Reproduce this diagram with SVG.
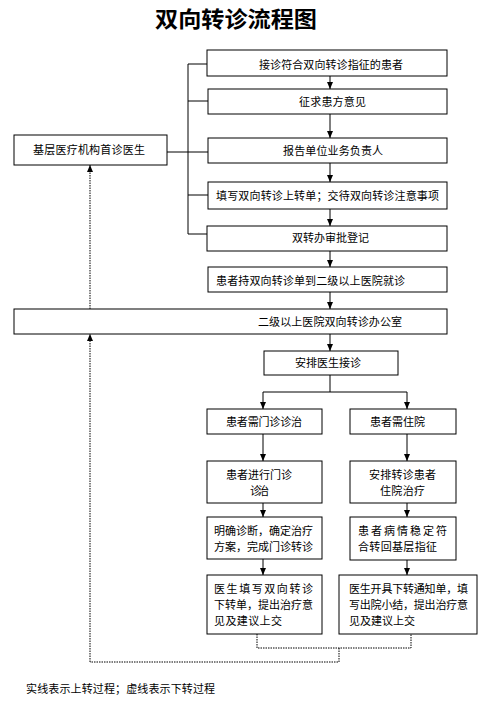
<svg xmlns="http://www.w3.org/2000/svg" width="487" height="722" viewBox="0 0 487 722">
<style>
.box{fill:#fff;stroke:#000;stroke-width:1}
.t{font-family:"Noto Sans CJK SC","Liberation Sans",sans-serif;font-size:11px;fill:#000}
.title{font-family:"Noto Sans CJK SC","Liberation Serif",serif;font-size:22px;font-weight:bold;fill:#000}
.ln{fill:none;stroke:#000;stroke-width:1}
.dot{fill:none;stroke:#000;stroke-width:1;stroke-dasharray:1.5 1}
</style>
<defs>
<marker id="ah" markerUnits="userSpaceOnUse" markerWidth="7" markerHeight="6" refX="7" refY="3" orient="auto">
<path d="M0,0 L7,3 L0,6 z" fill="#000"/>
</marker>
</defs>
<rect width="487" height="722" fill="#fff"/>
<text class="title" x="155" y="26.5" textLength="162" lengthAdjust="spacingAndGlyphs">双向转诊流程图</text>

<g id="connectors">
<path class="ln" d="M188,64 V234 M188,64 H207 M188,101 H208 M167,152 H208 M188,195 H208 M188,234 H207"/>
<line class="ln" x1="330" y1="76" x2="330" y2="89" marker-end="url(#ah)"/>
<line class="ln" x1="330" y1="114" x2="330" y2="138" marker-end="url(#ah)"/>
<line class="ln" x1="330" y1="163" x2="330" y2="182" marker-end="url(#ah)"/>
<line class="ln" x1="330" y1="209" x2="330" y2="226" marker-end="url(#ah)"/>
<line class="ln" x1="330" y1="251" x2="330" y2="267" marker-end="url(#ah)"/>
<line class="ln" x1="330" y1="292" x2="330" y2="309" marker-end="url(#ah)"/>
<line class="ln" x1="330" y1="334" x2="330" y2="351" marker-end="url(#ah)"/>
<path class="ln" d="M330,375 V392 M263,392 H407"/>
<line class="ln" x1="263" y1="392" x2="263" y2="409" marker-end="url(#ah)"/>
<line class="ln" x1="407" y1="392" x2="407" y2="409" marker-end="url(#ah)"/>
<line class="ln" x1="263" y1="434" x2="263" y2="461" marker-end="url(#ah)"/>
<line class="ln" x1="263" y1="503" x2="263" y2="517" marker-end="url(#ah)"/>
<line class="ln" x1="263" y1="559" x2="263" y2="575" marker-end="url(#ah)"/>
<line class="ln" x1="407" y1="434" x2="407" y2="461" marker-end="url(#ah)"/>
<line class="ln" x1="407" y1="503" x2="407" y2="517" marker-end="url(#ah)"/>
<line class="ln" x1="407" y1="560" x2="407" y2="575" marker-end="url(#ah)"/>
<line class="dot" x1="90" y1="309" x2="90" y2="165" marker-end="url(#ah)"/>
<path class="dot" d="M257,634 V648 H411 V634 M339,648 V662 H90"/>
<line class="dot" x1="90" y1="662" x2="90" y2="334" marker-end="url(#ah)"/>
</g>

<g id="n1"><rect class="box" x="207" y="50" width="240" height="26"/><text class="t" x="259" y="68.5" textLength="144" lengthAdjust="spacing">接诊符合双向转诊指征的患者</text></g>
<g id="n2"><rect class="box" x="208" y="89" width="239" height="25"/><text class="t" x="299" y="105.5" textLength="67" lengthAdjust="spacing">征求患方意见</text></g>
<g id="n3"><rect class="box" x="208" y="138" width="239" height="25"/><text class="t" x="283" y="154.5" textLength="100" lengthAdjust="spacing">报告单位业务负责人</text></g>
<g id="n0"><rect class="box" x="14" y="135" width="153" height="30"/><text class="t" x="33" y="154" textLength="112" lengthAdjust="spacing">基层医疗机构首诊医生</text></g>
<g id="n4"><rect class="box" x="208" y="182" width="239" height="27"/><text class="t" x="216" y="199.5" textLength="223" lengthAdjust="spacing">填写双向转诊上转单；交待双向转诊注意事项</text></g>
<g id="n5"><rect class="box" x="207" y="226" width="240" height="25"/><text class="t" x="292" y="242" textLength="77" lengthAdjust="spacing">双转办审批登记</text></g>
<g id="n6"><rect class="box" x="208" y="267" width="239" height="25"/><text class="t" x="216" y="284.5" textLength="189" lengthAdjust="spacing">患者持双向转诊单到二级以上医院就诊</text></g>
<g id="n7"><rect class="box" x="14" y="309" width="433" height="25"/><text class="t" x="258" y="325.5" textLength="144" lengthAdjust="spacing">二级以上医院双向转诊办公室</text></g>
<g id="n8"><rect class="box" x="264" y="351" width="134" height="24"/><text class="t" x="295" y="367" textLength="66" lengthAdjust="spacing">安排医生接诊</text></g>
<g id="l1"><rect class="box" x="207" y="409" width="115" height="25"/><text class="t" x="226" y="425.5" textLength="76" lengthAdjust="spacing">患者需门诊诊治</text></g>
<g id="r1"><rect class="box" x="350" y="409" width="106" height="25"/><text class="t" x="370" y="425.5" textLength="55" lengthAdjust="spacing">患者需住院</text></g>
<g id="l2"><rect class="box" x="207" y="461" width="115" height="42"/><text class="t" x="226" y="478.5" textLength="66" lengthAdjust="spacing">患者进行门诊</text><text class="t" x="250" y="494.5" textLength="19" lengthAdjust="spacing">诊治</text></g>
<g id="r2"><rect class="box" x="350" y="461" width="106" height="42"/><text class="t" x="369" y="478.5" textLength="67" lengthAdjust="spacing">安排转诊患者</text><text class="t" x="380" y="494.5" textLength="45" lengthAdjust="spacing">住院治疗</text></g>
<g id="l3"><rect class="box" x="207" y="517" width="115" height="42"/><text class="t" x="214" y="535" textLength="99" lengthAdjust="spacing">明确诊断，确定治疗</text><text class="t" x="214" y="550.5" textLength="99" lengthAdjust="spacing">方案，完成门诊转诊</text></g>
<g id="r3"><rect class="box" x="350" y="517" width="106" height="43"/><text class="t" x="358" y="535" textLength="89" lengthAdjust="spacing">患者病情稳定符</text><text class="t" x="358" y="550.5" textLength="79" lengthAdjust="spacing">合转回基层指征</text></g>
<g id="l4"><rect class="box" x="207" y="575" width="115" height="59"/><text class="t" x="214" y="592.5" textLength="99" lengthAdjust="spacing">医生填写双向转诊</text><text class="t" x="214" y="608.5" textLength="99" lengthAdjust="spacing">下转单，提出治疗意</text><text class="t" x="214" y="624.5" textLength="68" lengthAdjust="spacing">见及建议上交</text></g>
<g id="r4"><rect class="box" x="339" y="575" width="138" height="59"/><text class="t" x="349" y="592.5" textLength="119" lengthAdjust="spacing">医生开具下转通知单，填</text><text class="t" x="349" y="608.5" textLength="119" lengthAdjust="spacing">写出院小结，提出治疗意</text><text class="t" x="349" y="624.5" textLength="66" lengthAdjust="spacing">见及建议上交</text></g>
<text class="t" x="26" y="692.5" textLength="189" lengthAdjust="spacing">实线表示上转过程；虚线表示下转过程</text>
</svg>
